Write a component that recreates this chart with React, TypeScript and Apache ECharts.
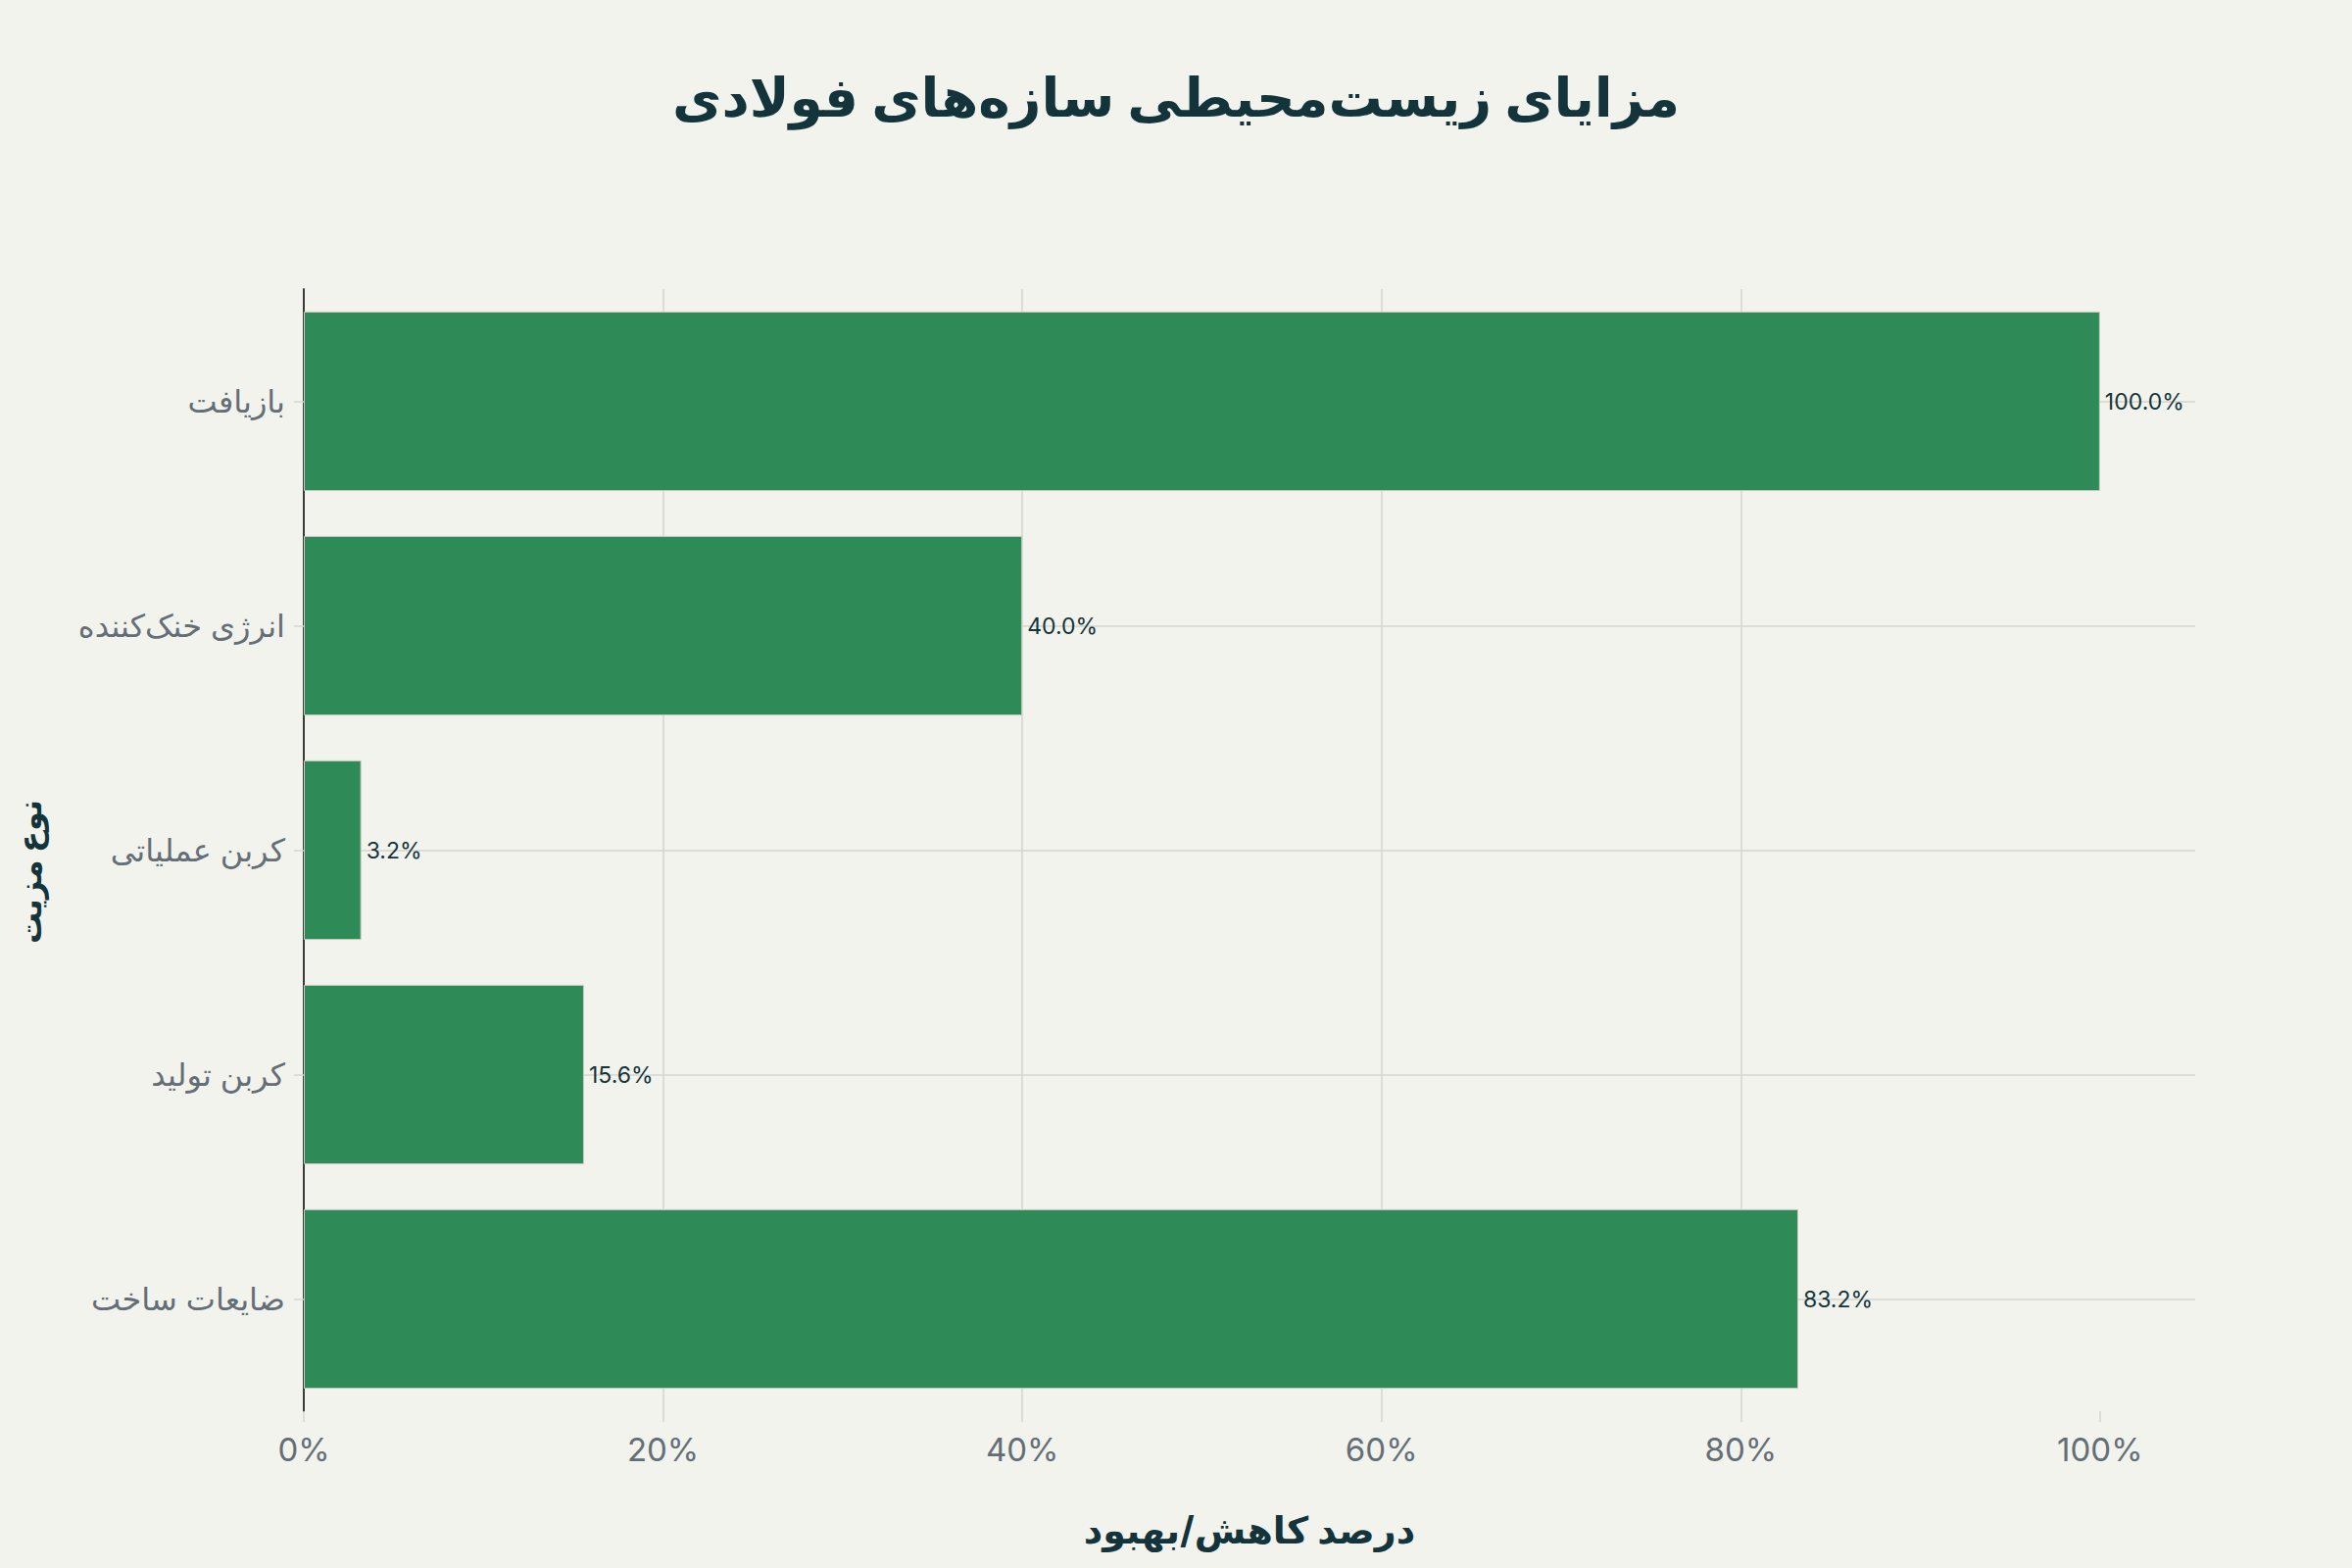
import React, { useEffect, useRef } from "react";
import * as echarts from "echarts";

// categories listed bottom-to-top (ECharts category y axis starts at the bottom)
const categories = [
  "ضایعات ساخت",
  "کربن تولید",
  "کربن عملیاتی",
  "انرژی خنک‌کننده",
  "بازیافت",
];
const values = [83.2, 15.6, 3.2, 40.0, 100.0];
const xTicks = [0, 20, 40, 60, 80, 100];

const TITLE = "مزایای زیست‌محیطی سازه‌های فولادی";
const X_NAME = "درصد کاهش/بهبود";
const Y_NAME = "نوع مزیت";

const FONT = "Inter, 'DejaVu Sans', sans-serif";
const DARK = "#13343b";
const GRAY = "#646e76";
const GRID = "#d6d6d0";

const App: React.FC = () => {
  const chartRef = useRef<HTMLDivElement>(null);

  useEffect(() => {
    document.body.style.margin = "0";
    if (!chartRef.current) return;
    const chart = echarts.init(chartRef.current, null, { renderer: "svg" });

    const option = {
      animation: false,
      backgroundColor: "#f3f3ee",
      title: {
        text: TITLE,
        left: "center",
        top: 66,
        textStyle: {
          fontFamily: FONT,
          fontSize: 55,
          fontWeight: "bold",
          color: DARK,
        },
      },
      grid: {
        left: 310,
        right: 160,
        top: 295,
        bottom: 160,
        containLabel: false,
        outerBoundsMode: "none",
      },
      xAxis: {
        type: "value",
        min: 0,
        max: 105.3, // axis runs a little past 100%
        interval: 20,
        name: X_NAME,
        nameLocation: "middle",
        nameGap: 102,
        nameTextStyle: {
          fontFamily: FONT,
          fontSize: 38,
          fontWeight: "bold",
          color: DARK,
        },
        axisLine: { show: false },
        axisTick: {
          show: true,
          length: 11,
          customValues: xTicks,
          lineStyle: { color: GRID, width: 1.5 },
        },
        axisLabel: {
          customValues: xTicks,
          formatter: (v: number) => `${v}%`,
          fontFamily: FONT,
          fontSize: 33,
          color: GRAY,
          margin: 22,
        },
        splitLine: {
          show: true,
          showMaxLine: false,
          lineStyle: { color: GRID, width: 1.5 },
        },
      },
      yAxis: {
        type: "category",
        data: categories,
        name: Y_NAME,
        nameLocation: "middle",
        nameGap: 264,
        nameRotate: 90,
        nameTextStyle: {
          fontFamily: FONT,
          fontSize: 32,
          fontWeight: "bold",
          color: DARK,
          padding: [0, 44, 0, 0],
        },
        axisLine: { show: true, lineStyle: { color: "#3a3a3a", width: 2 } },
        axisTick: {
          show: true,
          alignWithLabel: true,
          length: 10,
          lineStyle: { color: GRID, width: 1.5 },
        },
        axisLabel: {
          fontFamily: FONT,
          fontSize: 32,
          color: GRAY,
          margin: 19,
        },
        splitLine: {
          show: true,
          alignWithLabel: true,
          lineStyle: { color: GRID, width: 1.5 },
        },
      },
      series: [
        {
          type: "bar",
          data: values,
          barCategoryGap: "20%",
          itemStyle: {
            color: "#2e8b57",
            borderColor: "#c9c9c2",
            borderWidth: 1,
          },
          label: {
            show: true,
            position: "right",
            distance: 5,
            formatter: (p: any) => `${Number(p.value).toFixed(1)}%`,
            fontFamily: FONT,
            fontSize: 23,
            color: DARK,
          },
        },
      ],
    };

    chart.setOption(option);
    return () => {
      chart.dispose();
    };
  }, []);

  return <div ref={chartRef} style={{ width: 2400, height: 1600 }} />;
};

export default App;
